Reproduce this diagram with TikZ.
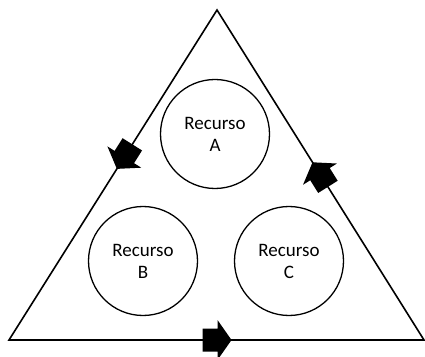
\documentclass[tikz,border=0pt]{standalone}
\usepackage{fontspec}
\setmainfont{Carlito}
\usetikzlibrary{positioning}

\tikzset{
  pics/flow/.style={code={
    \fill (-14,-11.5) -- (1,-11.5) -- (1,-20) -- (15,0) -- (1,20) -- (1,11.5) -- (-14,11.5) -- cycle;
  }}
}

\begin{document}
\begin{tikzpicture}[
    x=1pt, y=1pt,
    edge/.style={line width=1.6pt, line join=miter},
    res/.style={circle, draw, line width=1.3pt, minimum size=109pt, inner sep=0pt,
                align=center, font=\fontsize{19}{22}\selectfont}
  ]
    \useasboundingbox[fill=white] (0,0) rectangle (425,356);

    % corners of the cycle
    \coordinate (top) at (217,346);
    \coordinate (lc) at (9,16);
    \coordinate (rc) at (424,16);
    \draw[edge] (top) -- (lc) -- (rc) -- cycle;

    % resources
    \node[res] (ra) at (215,222) {Recurso\\A};
    \node[res] (rb) at (143,95) {Recurso\\B};
    \node[res] (rcc) at (289,95) {Recurso\\C};

    % direction of flow on each side
    \path (top) -- (lc) coordinate[pos=.443] (fl);
    \path (lc) -- (rc) coordinate[pos=.5] (fb);
    \path (rc) -- (top) coordinate[pos=.5] (fr);
    \pic[rotate=237.8] at (fl) {flow};
    \pic at (fb) {flow};
    \pic[rotate=122.1] at (fr) {flow};
\end{tikzpicture}
\end{document}
